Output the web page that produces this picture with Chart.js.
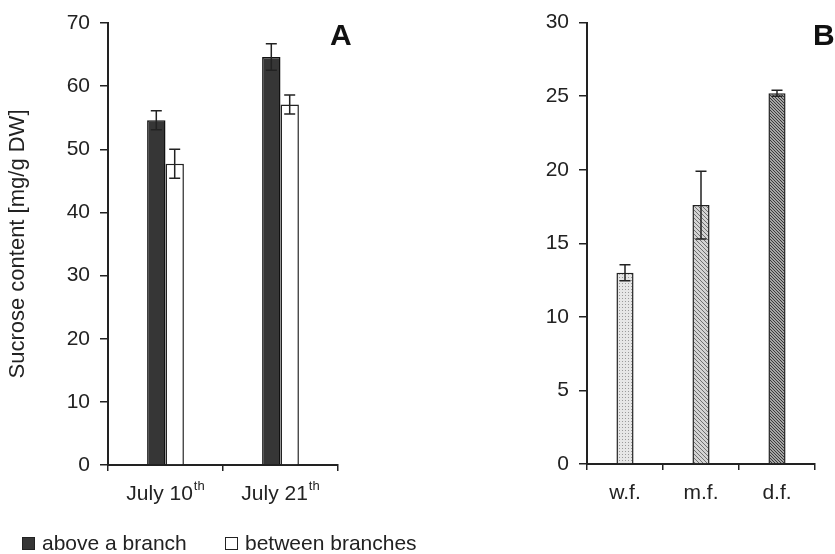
<!DOCTYPE html>
<html>
<head>
<meta charset="utf-8">
<script src="https://cdn.jsdelivr.net/npm/chart.js@4.4.1/dist/chart.umd.min.js"></script>
<style>
  html, body { margin: 0; padding: 0; background: #fff; }
  #wrap { position: relative; width: 835px; height: 554px; overflow: hidden; }
  #chartA { position: absolute; left: 0; top: 0; }
  #chartB { position: absolute; left: 480px; top: 0; }
</style>
</head>
<body>
<div id="wrap">
  <canvas id="chartA" width="480" height="554"></canvas>
  <canvas id="chartB" width="355" height="554"></canvas>
</div>
<script>
// Panel A data: sucrose content by sampling date and position
const categoriesA = ['July 10', 'July 21'];
const superscriptsA = ['th', 'th'];
const aboveBranch = [54.6, 64.6];
const aboveBranchErr = [1.5, 2.1];
const betweenBranches = [47.7, 57.1];
const betweenBranchesErr = [2.3, 1.5];

// Panel B data
const categoriesB = ['w.f.', 'm.f.', 'd.f.'];
const sucroseB = [13.0, 17.6, 25.2];
const sucroseBErr = [0.55, 2.3, 0.2];

const ink = '#222222';
const family = "'Liberation Sans', Arial, sans-serif";

// small tiled fills for the panel B bars
function makePattern(size, bg, fg, kind) {
  const c = document.createElement('canvas');
  c.width = c.height = size;
  const g = c.getContext('2d');
  g.fillStyle = bg;
  g.fillRect(0, 0, size, size);
  g.fillStyle = fg;
  if (kind === 'dots') {
    g.fillRect(1, 1, 1, 1);
  } else {
    for (let i = 0; i < size; i++) g.fillRect(i, i, 1, 1);
  }
  return g.createPattern(c, 'repeat');
}

// error bars, read from dataset.errors
const errorBarPlugin = {
  id: 'errorBars',
  afterDatasetsDraw(chart) {
    const ctx = chart.ctx;
    const y = chart.scales.y;
    ctx.save();
    ctx.strokeStyle = ink;
    ctx.lineWidth = 1.5;
    chart.data.datasets.forEach((ds, di) => {
      if (!ds.errors) return;
      chart.getDatasetMeta(di).data.forEach((bar, i) => {
        const v = ds.data[i], e = ds.errors[i];
        const top = y.getPixelForValue(v + e);
        const bot = y.getPixelForValue(v - e);
        ctx.beginPath();
        ctx.moveTo(bar.x, top); ctx.lineTo(bar.x, bot);
        ctx.moveTo(bar.x - 5.5, top); ctx.lineTo(bar.x + 5.5, top);
        ctx.moveTo(bar.x - 5.5, bot); ctx.lineTo(bar.x + 5.5, bot);
        ctx.stroke();
      });
    });
    ctx.restore();
  }
};

// category labels under the axis (with optional superscript)
const xLabelPlugin = {
  id: 'xLabels',
  afterDraw(chart, args, opts) {
    const ctx = chart.ctx;
    const xs = chart.scales.x;
    const base = chart.chartArea.bottom + 35;
    ctx.save();
    ctx.fillStyle = ink;
    ctx.textAlign = 'left';
    ctx.textBaseline = 'alphabetic';
    chart.data.labels.forEach((lab, i) => {
      const sup = opts.sup ? opts.sup[i] : '';
      ctx.font = '21px ' + family;
      const w1 = ctx.measureText(lab).width;
      ctx.font = '13px ' + family;
      const w2 = sup ? ctx.measureText(sup).width + 1 : 0;
      const left = xs.getPixelForValue(i) - (w1 + w2) / 2;
      ctx.font = '21px ' + family;
      ctx.fillText(lab, left, base);
      if (sup) {
        ctx.font = '13px ' + family;
        ctx.fillText(sup, left + w1 + 1, base - 10);
      }
    });
    ctx.restore();
  }
};

// big bold panel letter
const panelLabelPlugin = {
  id: 'panelLabel',
  afterDraw(chart, args, opts) {
    const ctx = chart.ctx;
    ctx.save();
    ctx.fillStyle = '#111';
    ctx.font = 'bold 30px ' + family;
    ctx.textAlign = 'left';
    ctx.textBaseline = 'alphabetic';
    ctx.fillText(opts.text, opts.x, opts.y);
    ctx.restore();
  }
};

// legend row under panel A
const bottomLegendPlugin = {
  id: 'bottomLegend',
  afterDraw(chart, args, opts) {
    if (!opts.xs) return;
    const ctx = chart.ctx;
    ctx.save();
    ctx.font = '21px ' + family;
    ctx.textBaseline = 'alphabetic';
    ctx.textAlign = 'left';
    chart.data.datasets.forEach((ds, i) => {
      const x = opts.xs[i];
      ctx.fillStyle = ds.backgroundColor;
      ctx.fillRect(x, opts.y - 13, 13, 13);
      ctx.strokeStyle = ink;
      ctx.lineWidth = 1;
      ctx.strokeRect(x + 0.5, opts.y - 12.5, 12, 12);
      ctx.fillStyle = ink;
      ctx.fillText(ds.label, x + 20, opts.y);
    });
    ctx.restore();
  }
};

function xScale(height) {
  return {
    grid: { display: true, drawOnChartArea: false, tickLength: 6, color: ink, lineWidth: 1.5, offset: true },
    border: { color: ink, width: 2 },
    ticks: { display: false },
    afterFit(s) { s.height = height; }
  };
}

function yScale(max, step, width, title) {
  return {
    min: 0, max: max,
    ticks: { stepSize: step, color: ink, font: { family: family, size: 21 }, padding: 10 },
    grid: { drawOnChartArea: false, tickLength: 8, color: ink, lineWidth: 1.5 },
    border: { color: ink, width: 2 },
    title: title ? { display: true, text: title, color: ink, font: { family: family, size: 22 }, padding: { top: 5, bottom: 0 } } : { display: false },
    afterFit(s) { s.width = width; }
  };
}

new Chart(document.getElementById('chartA'), {
  type: 'bar',
  data: {
    labels: categoriesA,
    datasets: [
      { label: 'above a branch', data: aboveBranch, errors: aboveBranchErr,
        backgroundColor: '#363636', borderColor: '#111', borderWidth: 1.5 },
      { label: 'between branches', data: betweenBranches, errors: betweenBranchesErr,
        backgroundColor: '#ffffff', borderColor: ink, borderWidth: 1.5 }
    ]
  },
  options: {
    responsive: false,
    animation: false,
    layout: { padding: { top: 23, right: 142, left: 0, bottom: 0 } },
    datasets: { bar: { categoryPercentage: 0.32, barPercentage: 1 } },
    plugins: {
      legend: { display: false },
      tooltip: { enabled: false },
      xLabels: { sup: superscriptsA },
      panelLabel: { text: 'A', x: 330, y: 45 },
      bottomLegend: { xs: [22, 225], y: 550 }
    },
    scales: {
      x: xScale(89),
      y: yScale(70, 10, 108, 'Sucrose content [mg/g DW]')
    }
  },
  plugins: [errorBarPlugin, xLabelPlugin, panelLabelPlugin, bottomLegendPlugin]
});

new Chart(document.getElementById('chartB'), {
  type: 'bar',
  data: {
    labels: categoriesB,
    datasets: [
      { label: 'sucrose', data: sucroseB, errors: sucroseBErr,
        backgroundColor: [
          makePattern(3, '#e6e6e6', '#9a9a9a', 'dots'),
          makePattern(4, '#d4d4d4', '#707070', 'lines'),
          makePattern(3, '#a4a4a4', '#3a3a3a', 'lines')
        ],
        borderColor: ink, borderWidth: 1.5 }
    ]
  },
  options: {
    responsive: false,
    animation: false,
    layout: { padding: { top: 18, right: 20, left: 0, bottom: 0 } },
    datasets: { bar: { categoryPercentage: 0.225, barPercentage: 1 } },
    plugins: {
      legend: { display: false },
      tooltip: { enabled: false },
      xLabels: {},
      panelLabel: { text: 'B', x: 333, y: 45 }
    },
    scales: {
      x: xScale(90),
      y: yScale(30, 5, 107, null)
    }
  },
  plugins: [errorBarPlugin, xLabelPlugin, panelLabelPlugin]
});
</script>
</body>
</html>
